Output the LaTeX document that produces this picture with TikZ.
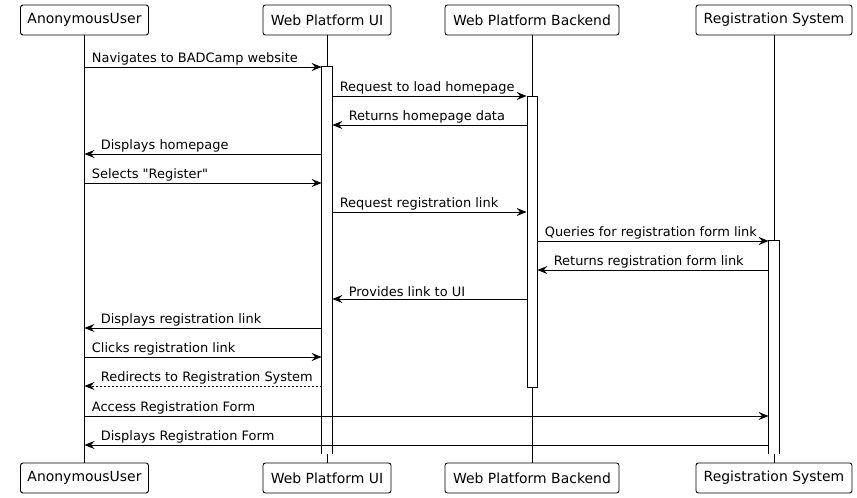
\documentclass[tikz,border=0pt]{standalone}
\usepackage{fontspec}
\setmainfont{DejaVu Sans}[Ligatures=TeXOff]
\usetikzlibrary{arrows.meta}

\tikzset{
  part/.style={draw, rounded corners=2.5bp, line width=0.9bp, minimum height=30bp,
    inner sep=0pt, font=\fontsize{14}{16}\selectfont},
  life/.style={line width=0.8bp},
  actbar/.style={draw, fill=white, line width=0.8bp, minimum width=10bp, inner sep=0pt},
  openbar/.style={actbar, draw=none},
  msg/.style={line width=0.8bp, -{Stealth[length=10bp,width=8bp,inset=3.5bp]}},
  reply/.style={msg, dash pattern=on 2bp off 2bp},
  lbl/.style={font=\fontsize{13}{15}\selectfont, inner sep=0pt, anchor=south west, yshift=1.5bp},
  lblr/.style={lbl, xshift=7bp},
  lbll/.style={lbl, xshift=16bp}
}

\begin{document}
\begin{tikzpicture}[x=1bp, y=-1bp]
  \useasboundingbox (0,0) rectangle (857,498);
  % participants, top and bottom
  \node [part, minimum width=128bp] (uT) at (84.5,20) {AnonymousUser};
  \node [part, minimum width=128bp] (wT) at (327,20) {Web Platform UI};
  \node [part, minimum width=174bp] (bT) at (532,20) {Web Platform Backend};
  \node [part, minimum width=156bp] (rT) at (774,20) {Registration System};
  \node [part, minimum width=128bp] (uB) at (84.5,478) {AnonymousUser};
  \node [part, minimum width=128bp] (wB) at (327,478) {Web Platform UI};
  \node [part, minimum width=174bp] (bB) at (532,478) {Web Platform Backend};
  \node [part, minimum width=156bp] (rB) at (774,478) {Registration System};
  % lifelines
  \draw [life] (uT) -- (uB);
  \draw [life] (wT) -- (wB);
  \draw [life] (bT) -- (bB);
  \draw [life] (rT) -- (rB);
  % activations (ui and registration stay open at the bottom)
  \node [openbar, minimum height=387bp] (wbar) at (327,260.5) {};
  \draw [life] (wbar.south west) -- (wbar.north west) -- (wbar.north east) -- (wbar.south east);
  \node [actbar, minimum height=291bp] (bbar) at (532,241.5) {};
  \node [openbar, minimum height=213bp] (rbar) at (774,347.5) {};
  \draw [life] (rbar.south west) -- (rbar.north west) -- (rbar.north east) -- (rbar.south east);
  % messages
  \draw [msg] (uT |- 0,67) -- (wbar.west |- 0,67)
    node [lblr, pos=0] {Navigates to BADCamp website};
  \draw [msg] (wbar.east |- 0,96) -- (bbar.west |- 0,96)
    node [lblr, pos=0] {Request to load homepage};
  \draw [msg] (bbar.west |- 0,125) -- (wbar.east |- 0,125)
    node [lbll, pos=1] {Returns homepage data};
  \draw [msg] (wbar.west |- 0,154) -- (uT |- 0,154)
    node [lbll, pos=1] {Displays homepage};
  \draw [msg] (uT |- 0,183) -- (wbar.west |- 0,183)
    node [lblr, pos=0] {Selects "Register"};
  \draw [msg] (wbar.east |- 0,212) -- (bbar.west |- 0,212)
    node [lblr, pos=0] {Request registration link};
  \draw [msg] (bbar.east |- 0,241) -- (rbar.west |- 0,241)
    node [lblr, pos=0] {Queries for registration form link};
  \draw [msg] (rbar.west |- 0,270) -- (bbar.east |- 0,270)
    node [lbll, pos=1] {Returns registration form link};
  \draw [msg] (bbar.west |- 0,299) -- (wbar.east |- 0,299)
    node [lbll, pos=1] {Provides link to UI};
  \draw [msg] (wbar.west |- 0,328) -- (uT |- 0,328)
    node [lbll, pos=1] {Displays registration link};
  \draw [msg] (uT |- 0,357) -- (wbar.west |- 0,357)
    node [lblr, pos=0] {Clicks registration link};
  \draw [reply] (wbar.west |- 0,386) -- (uT |- 0,386)
    node [lbll, pos=1] {Redirects to Registration System};
  \draw [msg] (uT |- 0,416) -- (rbar.west |- 0,416)
    node [lblr, pos=0] {Access Registration Form};
  \draw [msg] (rbar.west |- 0,445) -- (uT |- 0,445)
    node [lbll, pos=1] {Displays Registration Form};
\end{tikzpicture}
\end{document}
